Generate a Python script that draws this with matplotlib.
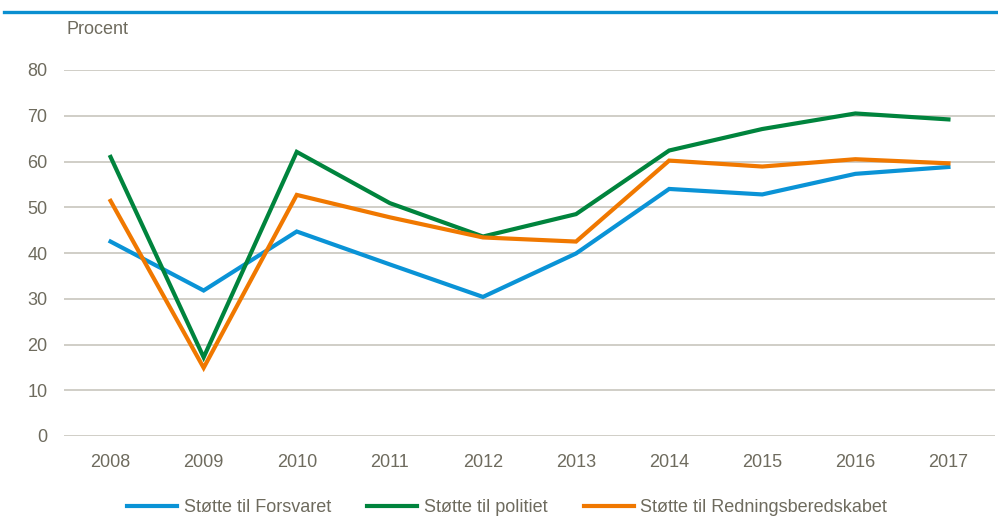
import matplotlib
matplotlib.use("Agg")
import matplotlib.pyplot as plt
from matplotlib.lines import Line2D

years = ["2008", "2009", "2010", "2011", "2012", "2013", "2014", "2015", "2016", "2017"]
forsvaret = [42.5, 31.8, 44.7, 37.5, 30.4, 39.9, 54.0, 52.8, 57.3, 58.8]
politiet = [61.0, 17.2, 62.1, 50.9, 43.6, 48.5, 62.4, 67.1, 70.5, 69.2]
redning = [51.4, 14.9, 52.7, 47.8, 43.4, 42.5, 60.2, 58.9, 60.5, 59.6]
series_names = ["Støtte til Forsvaret", "Støtte til politiet", "Støtte til Redningsberedskabet"]
colors = ["#0A93D6", "#00843D", "#F07800"]
yticks = [0, 10, 20, 30, 40, 50, 60, 70, 80]

plt.rcParams['font.family'] = ['Liberation Sans', 'DejaVu Sans']
txt = "#6E6B5E"

W, H = 998, 520
fig = plt.figure(figsize=(W / 100, H / 100), dpi=100)
ax = fig.add_axes([64 / W, 1 - 436 / H, (995 - 64) / W, (436 - 70) / H])

x = [i + 0.5 for i in range(len(years))]
for vals, c, n in zip([forsvaret, politiet, redning], colors, series_names):
    ax.plot(x, vals, color=c, lw=3.0, label=n, solid_joinstyle='miter', zorder=3)

ax.set_xlim(0, len(years))
ax.set_ylim(0, 80)
ax.set_yticks(yticks)
ax.set_xticks(x)
ax.set_xticklabels(years)
ax.tick_params(axis='both', length=0, labelsize=13, colors=txt)
ax.tick_params(axis='y', pad=12)
ax.tick_params(axis='x', pad=13)
ax.grid(axis='y', color='#C8C6BE', lw=1.2)
ax.set_axisbelow(True)
for s in ax.spines.values():
    s.set_visible(False)

fig.text(67 / W, 1 - 29 / H, "Procent", fontsize=13, color=txt, va='center', ha='left')

# blue rule at top
fig.add_artist(Line2D([4 / W, 1.0], [1 - 12 / H, 1 - 12 / H], color="#0A8FD0", lw=2.4))

leg = fig.legend(loc='center', bbox_to_anchor=(0.508, 1 - 508 / H), ncol=3, frameon=False,
                 fontsize=13, handlelength=2.8, handletextpad=0.35, columnspacing=2.0)
for t in leg.get_texts():
    t.set_color(txt)

fig.savefig("out.png", dpi=100)
